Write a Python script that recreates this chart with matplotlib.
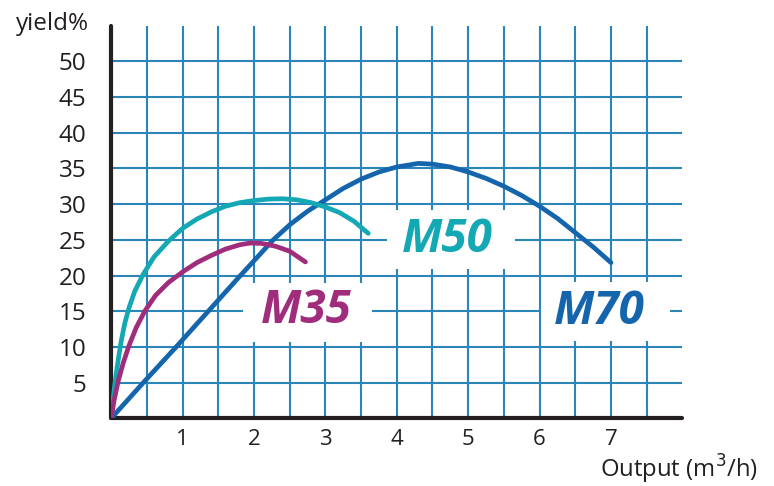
import matplotlib
matplotlib.use("Agg")
import matplotlib.pyplot as plt
from matplotlib.patches import Rectangle

# values
m70_x = [0, 0.45, 0.91, 1.36, 1.81, 2.27, 2.5, 2.75, 3.0, 3.25, 3.5, 3.75, 4.0, 4.3,
         4.5, 4.75, 5.0, 5.25, 5.5, 5.75, 6.0, 6.25, 6.5, 6.75, 7.0]
m70_y = [0, 5, 10, 15, 20, 25, 27.1, 29.0, 30.6, 32.2, 33.5, 34.5, 35.2, 35.7,
         35.6, 35.2, 34.5, 33.6, 32.5, 31.2, 29.7, 28.0, 26.0, 24.0, 21.8]

m50_x = [0, 0.03, 0.06, 0.1, 0.14, 0.19, 0.25, 0.33, 0.45, 0.6, 0.8, 1.0, 1.2, 1.4,
         1.6, 1.8, 2.0, 2.2, 2.4, 2.6, 2.8, 3.0, 3.2, 3.4, 3.6]
m50_y = [0, 3, 5.5, 8.3, 10.8, 13.3, 15.5, 17.8, 20.2, 22.6, 24.8, 26.6, 27.9, 28.9,
         29.7, 30.2, 30.5, 30.7, 30.75, 30.6, 30.2, 29.6, 28.8, 27.6, 25.9]

m35_x = [0, 0.04, 0.1, 0.17, 0.25, 0.35, 0.47, 0.62, 0.8, 1.0, 1.2, 1.4, 1.6, 1.8,
         1.95, 2.1, 2.3, 2.5, 2.72]
m35_y = [0, 2.5, 5.3, 7.8, 10.2, 12.7, 15, 17.2, 19.0, 20.5, 21.8, 22.8, 23.7, 24.3,
         24.55, 24.5, 24.1, 23.4, 21.9]

x_ticks = [1, 2, 3, 4, 5, 6, 7]
y_ticks = [5, 10, 15, 20, 25, 30, 35, 40, 45, 50]

# label name, text position, white box (x0, y0, w, h), colour
labels = [
    ("M35", 2.73, 15.1, (1.85, 10.7, 1.8, 8.3), "#a02c7c"),
    ("M50", 4.71, 25.0, (3.86, 20.9, 1.8, 8.3), "#14a8b4"),
    ("M70", 6.83, 14.9, (6.02, 10.8, 1.8, 8.3), "#1565ad"),
]

grid_col = "#2a86b9"

fig = plt.figure(figsize=(7.74, 4.86), dpi=100)
ax = fig.add_axes([111.2 / 774, (486 - 418.3) / 486, 571.2 / 774, 392.7 / 486])
ax.set_xlim(0, 8)
ax.set_ylim(0, 55)

ax.set_xticks(x_ticks)
ax.set_xticks([t - 0.5 for t in x_ticks] + [7.5], minor=True)
ax.set_yticks(y_ticks)
ax.grid(True, which="both", color=grid_col, lw=1.5, zorder=1)
ax.set_axisbelow(True)
ax.tick_params(which="both", length=0)
ax.tick_params(axis="y", pad=18, labelsize=17.5, labelcolor="#231f20")
ax.tick_params(axis="x", pad=8, labelsize=16, labelcolor="#231f20")
for lab in ax.get_xticklabels() + ax.get_yticklabels():
    lab.set_family("Open Sans")

for s in ["top", "right"]:
    ax.spines[s].set_visible(False)
for s in ["left", "bottom"]:
    ax.spines[s].set_color("#231f20")
    ax.spines[s].set_linewidth(3)
    ax.spines[s].set_capstyle("round")

for name, tx, ty, box, col in labels:
    ax.add_patch(Rectangle(box[:2], box[2], box[3], facecolor="white",
                           edgecolor="none", zorder=2))

for xs, ys, col in [(m70_x, m70_y, "#1565ad"), (m50_x, m50_y, "#14a8b4"),
                    (m35_x, m35_y, "#a02c7c")]:
    ax.plot(xs, ys, color=col, lw=3.4, solid_capstyle="round",
            solid_joinstyle="round", zorder=3)

for name, tx, ty, box, col in labels:
    ax.text(tx, ty, name, color=col, fontsize=33, fontweight="bold",
            fontstyle="italic", family="Open Sans", ha="center", va="center",
            zorder=4)

fig.text(89 / 774, 1 - 29.5 / 486, "yield%", ha="right", va="baseline",
         fontsize=17.5, family="Open Sans", color="#231f20")
fig.text(758 / 774, 1 - 478 / 486, "Output (m$^3$/h)", ha="right", va="baseline",
         fontsize=17.2, family="Open Sans", color="#231f20")

fig.savefig("out.png", dpi=100)
